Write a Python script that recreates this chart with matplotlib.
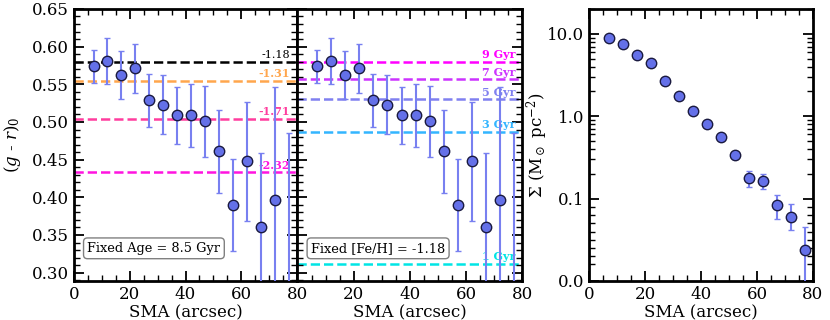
import numpy as np
import matplotlib
matplotlib.use("Agg")
import matplotlib.pyplot as plt
from matplotlib.ticker import MultipleLocator, FixedLocator, FormatStrFormatter, FuncFormatter

plt.rcParams["font.family"] = "DejaVu Serif"
plt.rcParams["mathtext.fontset"] = "dejavuserif"

# =========================
# Data
# =========================
sma = [7, 12, 17, 22, 27, 32, 37, 42, 47, 52, 57, 62, 67, 72, 77]
color_gr = [0.574, 0.581, 0.562, 0.571, 0.529, 0.523, 0.509, 0.509, 0.501,
            0.461, 0.390, 0.448, 0.360, 0.396, 0.270]
color_err = [0.022, 0.030, 0.032, 0.033, 0.035, 0.039, 0.038, 0.042, 0.047,
             0.055, 0.061, 0.079, 0.099, 0.150, 0.215]

sigma = [8.79, 7.56, 5.51, 4.40, 2.66, 1.78, 1.14, 0.81, 0.556, 0.336,
         0.177, 0.164, 0.092, 0.078, 0.038]
sigma_err_lo = [0.10, 0.09, 0.07, 0.06, 0.05, 0.04, 0.03, 0.03, 0.03, 0.03,
                0.040, 0.032, 0.017, 0.016, 0.060]
sigma_err_hi = [0.10, 0.09, 0.07, 0.06, 0.05, 0.04, 0.03, 0.03, 0.03, 0.03,
                0.040, 0.032, 0.017, 0.016, 0.027]

feh_vals = [0.580, 0.555, 0.504, 0.433]
feh_labels = ["-1.18", "-1.31", "-1.71", "-2.32"]
feh_colors = ["black", "#ffa64d", "#ff3d9e", "#ff14e0"]

age_vals = [0.580, 0.557, 0.530, 0.487, 0.312]
age_labels = ["9 Gyr", "7 Gyr", "5 Gyr", "3 Gyr", "1 Gyr"]
age_colors = ["#ff00ff", "#cc33ff", "#8080f0", "#33b5ff", "#00e5e5"]

MARKER_FC = "#6470e8"
ERR_C = "#7880f0"


def style_axes(ax):
    ax.tick_params(which="both", direction="in", top=True, right=True, labelsize=12)
    ax.tick_params(which="major", length=7, width=1.3)
    ax.tick_params(which="minor", length=4, width=1.0)
    for sp in ax.spines.values():
        sp.set_linewidth(2)


def color_panel(ax, vals, labels, colors, box_text, show_ylabels):
    for v, lab, c in zip(vals, labels, colors):
        ax.axhline(v, color=c, ls="--", lw=1.8, zorder=1)
        weight = "normal" if c == "black" else "bold"
        ax.text(77.5, v + 0.002, lab, color=c, ha="right", va="bottom",
                fontsize=8, fontweight=weight)
    ax.errorbar(sma, color_gr, yerr=color_err, fmt="o", ms=7.5, mfc=MARKER_FC,
                mec="#1a1a40", mew=1.0, ecolor=ERR_C, elinewidth=1.5,
                capsize=2.5, capthick=1.5, zorder=3)
    ax.set_xlim(0, 80)
    ax.set_ylim(0.289, 0.65)
    ax.xaxis.set_major_locator(MultipleLocator(20))
    ax.xaxis.set_minor_locator(MultipleLocator(5))
    ax.yaxis.set_major_locator(MultipleLocator(0.05))
    ax.yaxis.set_minor_locator(MultipleLocator(0.01))
    ax.yaxis.set_major_formatter(FormatStrFormatter("%.2f"))
    style_axes(ax)
    if not show_ylabels:
        ax.tick_params(labelleft=False)
        # the left panel's "80" already sits on this spot
        ax.xaxis.set_major_formatter(FuncFormatter(lambda v, p: "" if v == 0 else f"{v:.0f}"))
    ax.set_xlabel("SMA (arcsec)", fontsize=12, labelpad=1)
    ax.text(0.06, 0.12, box_text, transform=ax.transAxes, fontsize=9.3,
            ha="left", va="center",
            bbox=dict(boxstyle="round,pad=0.3", fc="white", ec="gray", lw=1))


fig = plt.figure(figsize=(8.3, 3.2), dpi=100)
ax1 = fig.add_axes([0.0892, 0.122, 0.2687, 0.85])
ax2 = fig.add_axes([0.3584, 0.122, 0.2711, 0.85])
ax3 = fig.add_axes([0.7096, 0.122, 0.2699, 0.85])

color_panel(ax1, feh_vals, feh_labels, feh_colors, "Fixed Age = 8.5 Gyr", True)
color_panel(ax2, age_vals, age_labels, age_colors, "Fixed [Fe/H] = -1.18", False)
ax1.set_ylabel(r"$(g$ - $r)_0$", fontsize=12)
ax1.yaxis.set_label_coords(-0.23, 0.5)

# surface density panel
ax3.errorbar(sma, sigma, yerr=[sigma_err_lo, sigma_err_hi], fmt="o", ms=7.5,
             mfc=MARKER_FC, mec="#1a1a40", mew=1.0, ecolor=ERR_C,
             elinewidth=1.5, capsize=2.5, capthick=1.5, zorder=3)
ax3.set_yscale("symlog", linthresh=0.1, linscale=0.9)
ax3.set_xlim(0, 80)
ax3.set_ylim(0, 20)
ax3.xaxis.set_major_locator(MultipleLocator(20))
ax3.xaxis.set_minor_locator(MultipleLocator(5))
ax3.yaxis.set_major_locator(FixedLocator([0.0, 0.1, 1.0, 10.0]))
minors = [k * 0.01 for k in range(2, 10)] + [k * 0.1 for k in range(2, 10)] \
    + [k * 1.0 for k in range(2, 10)] + [20.0]
ax3.yaxis.set_minor_locator(FixedLocator(minors))
ax3.yaxis.set_major_formatter(FormatStrFormatter("%.1f"))
style_axes(ax3)
ax3.set_xlabel("SMA (arcsec)", fontsize=12, labelpad=1)
ax3.set_ylabel(r"$\Sigma$ (M$_\odot$ pc$^{-2}$)", fontsize=12)
ax3.yaxis.set_label_coords(-0.175, 0.5)

fig.savefig("out.png", dpi=100)
